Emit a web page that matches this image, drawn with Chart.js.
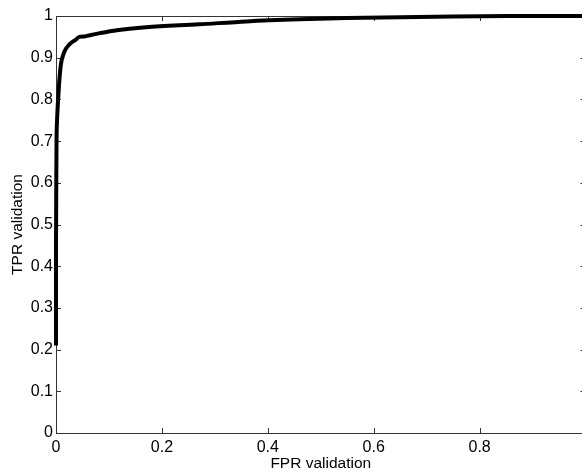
<!DOCTYPE html>
<html>
<head>
<meta charset="utf-8">
<script src="https://cdn.jsdelivr.net/npm/chart.js@4/dist/chart.umd.min.js"></script>
<style>
  html, body { margin: 0; padding: 0; background: #fff; overflow: hidden; }
  #wrap { width: 595px; height: 476px; }
</style>
</head>
<body>
<div id="wrap"><canvas id="roc"></canvas></div>
<script>
// ROC curve
const fpr = [0, 0, 0.0005, 0.001, 0.002, 0.004, 0.006, 0.008, 0.010, 0.012, 0.015, 0.019, 0.024, 0.030, 0.037, 0.044, 0.054, 0.064, 0.083, 0.115, 0.17, 0.27, 0.36, 0.46, 0.55, 0.65, 0.75, 0.855, 1];
const tpr = [0.21, 0.45, 0.60, 0.70, 0.75, 0.80, 0.84, 0.87, 0.89, 0.90, 0.912, 0.922, 0.930, 0.937, 0.943, 0.950, 0.951, 0.954, 0.959, 0.966, 0.973, 0.980, 0.987, 0.992, 0.995, 0.997, 0.999, 1, 1];
const xTicks = [0, 0.2, 0.4, 0.6, 0.8, 1];
const yTicks = [0, 0.1, 0.2, 0.3, 0.4, 0.5, 0.6, 0.7, 0.8, 0.9, 1];

const TICK_FONT = { family: "'Liberation Sans', Arial, sans-serif", size: 16 };
const TITLE_FONT = { family: "'Liberation Sans', Arial, sans-serif", size: 15.5 };
const AXIS = '#333';

// matlab-ish box with inward ticks
const boxAxes = {
  id: 'boxAxes',
  beforeDatasetsDraw(chart) {
    const { ctx, chartArea: a, scales: { x, y } } = chart;
    const tl = 5;
    ctx.save();
    ctx.strokeStyle = AXIS;
    ctx.lineWidth = 1;
    ctx.strokeRect(Math.round(a.left) + 0.5, Math.round(a.top) + 0.5, Math.round(a.right - a.left), Math.round(a.bottom - a.top));
    ctx.beginPath();
    xTicks.forEach((v) => {
      const px = Math.round(x.getPixelForValue(v)) + 0.5;
      ctx.moveTo(px, a.bottom); ctx.lineTo(px, a.bottom - tl);
      ctx.moveTo(px, a.top); ctx.lineTo(px, a.top + tl);
    });
    yTicks.forEach((v) => {
      const py = Math.round(y.getPixelForValue(v)) + 0.5;
      ctx.moveTo(a.left, py); ctx.lineTo(a.left + tl, py);
      ctx.moveTo(a.right, py); ctx.lineTo(a.right - tl, py);
    });
    ctx.stroke();
    ctx.restore();
  }
};

new Chart(document.getElementById('roc'), {
  type: 'scatter',
  data: {
    datasets: [{
      data: fpr.map((v, i) => ({ x: v, y: tpr[i] })),
      showLine: true, borderColor: '#000', borderWidth: 4, pointRadius: 0,
      cubicInterpolationMode: 'monotone', clip: false
    }]
  },
  options: {
    responsive: true, maintainAspectRatio: false, animation: false,
    layout: { padding: { top: 16, left: 0, right: 0, bottom: 0 } },
    plugins: { legend: { display: false }, tooltip: { enabled: false } },
    scales: {
      x: {
        type: 'linear', min: 0, max: 1,
        afterBuildTicks: (s) => { s.ticks = xTicks.map((v) => ({ value: v })); },
        afterFit: (s) => { s.height = 43; },
        grid: { display: false, drawTicks: false }, border: { display: false },
        ticks: { color: '#000', font: TICK_FONT, padding: 5, maxRotation: 0, callback: (v) => String(v) },
        title: { display: true, text: 'FPR validation', color: '#000', font: TITLE_FONT, padding: { top: 0, bottom: 3 } }
      },
      y: {
        type: 'linear', min: 0, max: 1,
        afterBuildTicks: (s) => { s.ticks = yTicks.map((v) => ({ value: v })); },
        afterFit: (s) => { s.width = 56; },
        grid: { display: false, drawTicks: false }, border: { display: false },
        ticks: { color: '#000', font: TICK_FONT, padding: 3, callback: (v) => String(v) },
        title: { display: true, text: 'TPR validation', color: '#000', font: TITLE_FONT, padding: { top: 8, bottom: 0 } }
      }
    }
  },
  plugins: [boxAxes]
});
</script>
</body>
</html>
